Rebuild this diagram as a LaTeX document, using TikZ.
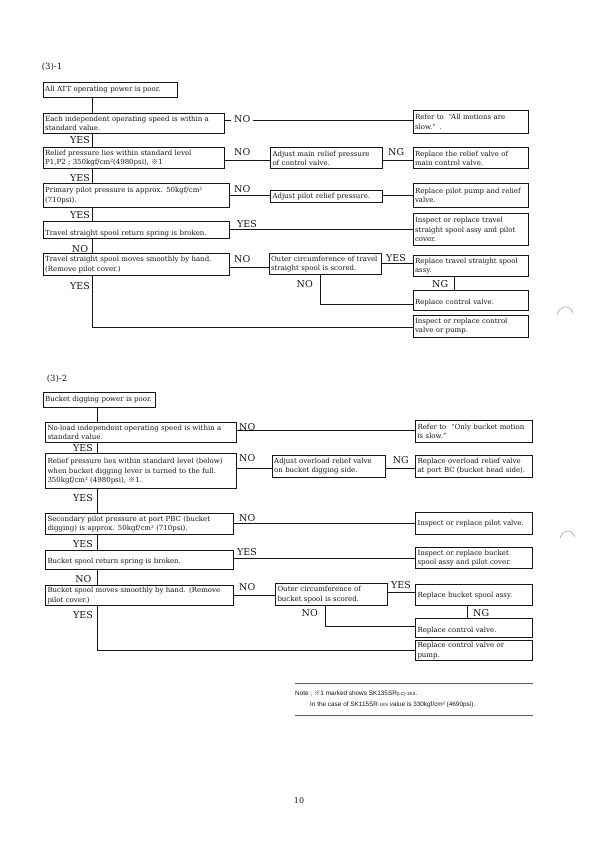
\documentclass[tikz,border=0pt]{standalone}
\usepackage{fontspec}
\setmainfont{DejaVu Serif}
\setsansfont{Liberation Sans}
\newfontfamily\cjk{Noto Sans CJK JP}
\usepackage{tikz}
\usetikzlibrary{calc}
\definecolor{ink}{RGB}{22,22,22}
\tikzset{
  % boxes of the chart
  box/.style={draw=ink, line width=1pt, anchor=north west, inner xsep=2pt, inner ysep=0pt,
    align=left, text=ink, font=\fontsize{7}{9.3}\selectfont},
  % YES / NO / NG
  ans/.style={text=ink, inner sep=0pt, font=\fontsize{9.5}{10}\selectfont},
  link/.style={draw=ink, line width=0.8pt},
  head/.style={text=ink, anchor=base west, inner sep=0pt, font=\fontsize{8.5}{9}\selectfont},
  % note under the charts
  note/.style={text=ink, anchor=base west, inner sep=0pt, font=\sffamily\fontsize{6.4}{7}\selectfont},
  rule/.style={draw=ink!70, line width=0.8pt}
}

\begin{document}
\begin{tikzpicture}[x=1pt, y=-1pt]
  \path[fill=white] (0,0) rectangle (599,844);

  % (3)-1
  \node[head] (h1) at (41.7,69.5) {(3)-1};
  \node[box, text width=130pt, minimum height=15pt] (a1) at (42.7,81.7) {All ATT operating power is poor.};
  \node[box, text width=177.3pt, minimum height=19.4pt] (a2) at (42.7,113.3) {Each independent operating speed is within a\\standard value.};
  \node[box, text width=177.3pt, minimum height=21.6pt] (a3) at (42.7,146.7) {Relief pressure lies within standard level\\P1,P2 ; 350kgf/cm²(4980psi), {\cjk ※}1};
  \node[box, text width=182.6pt, minimum height=23.4pt] (a4) at (42.7,183.3) {Primary pilot pressure is approx. 50kgf/cm²\\(710psi).};
  \node[box, text width=182.6pt, minimum height=16.7pt, text height=13pt] (a5) at (42.7,221) {Travel straight spool return spring is broken.};
  \node[box, text width=182.6pt, minimum height=21.7pt] (a6) at (42.7,253.3) {Travel straight spool moves smoothly by hand.\\(Remove pilot cover.)};

  \node[box, text width=107.7pt, minimum height=21pt] (m1) at (270,147.3) {Adjust main relief pressure\\of control valve.};
  \node[box, text width=107.7pt, minimum height=11.7pt] (m2) at (270,190) {Adjust pilot relief pressure.};
  \node[box, text width=108.5pt, minimum height=21pt] (m3) at (268.5,253.3) {Outer circumference of travel\\straight spool is scored.};

  \node[box, text width=111pt, minimum height=22.7pt] (r1) at (412.5,110) {Refer to \ “All motions are\\slow.” .};
  \node[box, text width=111pt, minimum height=21pt] (r2) at (412.5,147.3) {Replace the relief valve of\\main control valve.};
  \node[box, text width=111pt, minimum height=23.4pt] (r3) at (412.5,183.3) {Replace pilot pump and relief\\valve.};
  \node[box, text width=111pt, minimum height=31.7pt] (r4) at (412.5,213.3) {Inspect or replace travel\\straight spool assy and pilot\\cover.};
  \node[box, text width=111pt, minimum height=21pt] (r5) at (412.5,255) {Replace travel straight spool\\assy.};
  \node[box, text width=111pt, minimum height=20pt, text height=9.7pt] (r6) at (412.5,290) {Replace control valve.};
  \node[box, text width=111pt, minimum height=21.7pt] (r7) at (412.5,315) {Inspect or replace control\\valve or pump.};

  \draw[link] ([xshift=50pt]a1.south west) -- ([xshift=50pt]a2.north west);
  \draw[link] ([xshift=50pt]a2.south west) -- ([xshift=50pt]a3.north west);
  \draw[link] ([xshift=50pt]a3.south west) -- ([xshift=50pt]a4.north west);
  \draw[link] ([xshift=50pt]a4.south west) -- ([xshift=50pt]a5.north west);
  \draw[link] ([xshift=50pt]a5.south west) -- ([xshift=50pt]a6.north west);
  \draw[link] ([xshift=50pt]a6.south west) |- ([yshift=-12pt]r7.north west);

  \draw[link] ([yshift=-7.4pt]a2.north east) -- ([yshift=-10.7pt]r1.north west);
  \draw[link] ([yshift=-13.3pt]a3.north east) -- ([yshift=-12.7pt]m1.north west);
  \draw[link] ([yshift=-12.7pt]m1.north east) -- ([yshift=-12.7pt]r2.north west);
  \draw[link] ([yshift=-11.7pt]a4.north east) -- ([yshift=-5pt]m2.north west);
  \draw[link] ([yshift=-5pt]m2.north east) -- ([yshift=-11.7pt]r3.north west);
  \draw[link] ([yshift=-8.3pt]a5.north east) -- ([yshift=-16pt]r4.north west);
  \draw[link] ([yshift=-14pt]a6.north east) -- ([yshift=-14pt]m3.north west);
  \draw[link] ([yshift=-9.7pt]m3.north east) -- ([yshift=-8pt]r5.north west);
  \draw[link] ([xshift=41.5pt]r5.south west) -- ([xshift=41.5pt]r6.north west);
  \draw[link] ([xshift=51.5pt]m3.south west) |- ([yshift=-14pt]r6.north west);

  \node[ans, anchor=base east] (y1) at ([xshift=47.3pt, yshift=-9.3pt]a2.south west) {YES};
  \node[ans, anchor=base east] (y2) at ([xshift=47.3pt, yshift=-11.7pt]a3.south west) {YES};
  \node[ans, anchor=base east] (y3) at ([xshift=47.3pt, yshift=-11pt]a4.south west) {YES};
  \node[ans, anchor=base east] (y4) at ([xshift=45.6pt, yshift=-13.3pt]a5.south west) {NO};
  \node[ans, anchor=base east] (y5) at ([xshift=47.3pt, yshift=-13.3pt]a6.south west) {YES};

  \node[ans, anchor=base west, fill=white, inner xsep=3pt] (x1) at ([xshift=6pt, yshift=-8.7pt]a2.north east) {NO};
  \node[ans, anchor=base west] (x2) at ([xshift=9pt, yshift=-8.3pt]a3.north east) {NO};
  \node[ans, anchor=base west] (x3) at ([xshift=5.3pt, yshift=-7.7pt]m1.north east) {NG};
  \node[ans, anchor=base west] (x4) at ([xshift=3.7pt, yshift=-8.7pt]a4.north east) {NO};
  \node[ans, anchor=base west] (x5) at ([xshift=6.7pt, yshift=-6.7pt]a5.north east) {YES};
  \node[ans, anchor=base west] (x6) at ([xshift=3.7pt, yshift=-8.7pt]a6.north east) {NO};
  \node[ans, anchor=base west] (x7) at ([xshift=4pt, yshift=-8.4pt]m3.north east) {YES};
  \node[ans, anchor=base east] (x8) at ([xshift=35.8pt, yshift=-10.7pt]r5.south west) {NG};
  \node[ans, anchor=base east] (x9) at ([xshift=44.5pt, yshift=-12.4pt]m3.south west) {NO};

  % (3)-2
  \node[head] (h2) at (46.7,381.5) {(3)-2};
  \node[box, text width=108pt, minimum height=15pt] (b1) at (42.7,391.7) {Bucket digging power is poor.};
  \node[box, text width=187pt, minimum height=20pt] (b2) at (45,421.7) {No-load independent operating speed is within a\\standard value.};
  \node[box, text width=187pt, minimum height=35pt] (b3) at (45,453.3) {Relief pressure lies within standard level (below)\\when bucket digging lever is turned to the full.\\350kgf/cm² (4980psi), {\cjk ※}1.};
  \node[box, text width=184.3pt, minimum height=20.7pt] (b4) at (45,513.3) {Secondary pilot pressure at port PBC (bucket\\digging) is approx. 50kgf/cm² (710psi).};
  \node[box, text width=184.3pt, minimum height=19.3pt, text height=9pt] (b5) at (45,550) {Bucket spool return spring is broken.};
  \node[box, text width=184.3pt, minimum height=20pt] (b6) at (45,585) {Bucket spool moves smoothly by hand. (Remove\\pilot cover.)};

  \node[box, text width=109.3pt, minimum height=21.7pt] (n1) at (271.7,455) {Adjust overload relief valve\\on bucket digging side.};
  \node[box, text width=107.7pt, minimum height=21.7pt] (n2) at (275,583.3) {Outer circumference of\\bucket spool is scored.};

  \node[box, text width=113pt, minimum height=21.7pt] (s1) at (415,420) {Refer to \ “Only bucket motion\\is slow.”};
  \node[box, text width=113pt, minimum height=21.7pt] (s2) at (415,455) {Replace overload relief valve\\at port BC (bucket head side).};
  \node[box, text width=113pt, minimum height=21.7pt] (s3) at (415,512.3) {Inspect or replace pilot valve.};
  \node[box, text width=113pt, minimum height=21.7pt] (s4) at (415,546.7) {Inspect or replace bucket\\spool assy and pilot cover.};
  \node[box, text width=113pt, minimum height=20.7pt] (s5) at (415,584.3) {Replace bucket spool assy.};
  \node[box, text width=113pt, minimum height=19.6pt, text height=9.7pt] (s6) at (415,617.7) {Replace control valve.};
  \node[box, text width=113pt, minimum height=20pt] (s7) at (415,640) {Replace control valve or\\pump.};

  \draw[link] ([xshift=54.3pt]b1.south west) -- ([xshift=52pt]b2.north west);
  \draw[link] ([xshift=52pt]b2.south west) -- ([xshift=52pt]b3.north west);
  \draw[link] ([xshift=52pt]b3.south west) -- ([xshift=52pt]b4.north west);
  \draw[link] ([xshift=52pt]b4.south west) -- ([xshift=52pt]b5.north west);
  \draw[link] ([xshift=52pt]b5.south west) -- ([xshift=52pt]b6.north west);
  \draw[link] ([xshift=52pt]b6.south west) |- ([yshift=-10.7pt]s7.north west);

  \draw[link] ([yshift=-8.3pt]b2.north east) -- ([yshift=-10pt]s1.north west);
  \draw[link] ([yshift=-14.7pt]b3.north east) -- ([yshift=-13pt]n1.north west);
  \draw[link] ([yshift=-13pt]n1.north east) -- ([yshift=-13pt]s2.north west);
  \draw[link] ([yshift=-9.7pt]b4.north east) -- ([yshift=-10.7pt]s3.north west);
  \draw[link] ([yshift=-8.3pt]b5.north east) -- ([yshift=-11.6pt]s4.north west);
  \draw[link] ([yshift=-10pt]b6.north east) -- ([yshift=-11.7pt]n2.north west);
  \draw[link] ([yshift=-8.7pt]n2.north east) -- ([yshift=-7.7pt]s5.north west);
  \draw[link] ([xshift=52.5pt]s5.south west) -- ([xshift=52.5pt]s6.north west);
  \draw[link] ([xshift=50pt]n2.south west) |- ([yshift=-8.3pt]s6.north west);

  \node[ans, anchor=base east] (v1) at ([xshift=48pt, yshift=-8.3pt]b2.south west) {YES};
  \node[ans, anchor=base east] (v2) at ([xshift=48pt, yshift=-12.4pt]b3.south west) {YES};
  \node[ans, anchor=base east] (v3) at ([xshift=48pt, yshift=-12.7pt]b4.south west) {YES};
  \node[ans, anchor=base east] (v4) at ([xshift=46.7pt, yshift=-11.7pt]b5.south west) {NO};
  \node[ans, anchor=base east] (v5) at ([xshift=48pt, yshift=-12.3pt]b6.south west) {YES};

  \node[ans, anchor=base west, fill=white, inner xsep=2pt] (w1) at ([xshift=0pt, yshift=-8.3pt]b2.north east) {NO};
  \node[ans, anchor=base west] (w2) at ([xshift=2pt, yshift=-8.4pt]b3.north east) {NO};
  \node[ans, anchor=base west] (w3) at ([xshift=6.7pt, yshift=-8.3pt]n1.north east) {NG};
  \node[ans, anchor=base west] (w4) at ([xshift=4.7pt, yshift=-8.4pt]b4.north east) {NO};
  \node[ans, anchor=base west] (w5) at ([xshift=2.7pt, yshift=-5pt]b5.north east) {YES};
  \node[ans, anchor=base west] (w6) at ([xshift=4.7pt, yshift=-5.7pt]b6.north east) {NO};
  \node[ans, anchor=base west] (w7) at ([xshift=3.3pt, yshift=-5pt]n2.north east) {YES};
  \node[ans, anchor=base west] (w8) at ([xshift=58pt, yshift=-10pt]s5.south west) {NG};
  \node[ans, anchor=base east] (w9) at ([xshift=43pt, yshift=-10pt]n2.south west) {NO};

  % note
  \draw[rule] (295,683.3) -- (533.3,683.3);
  \node[note] (t1) at (295,695) {Note ; {\cjk ※}1 marked shows SK135SR{\fontsize{4.5}{5}\selectfont(LC)-1ES}.};
  \node[note] (t2) at (310,706) {In the case of SK115SR{\fontsize{4.5}{5}\selectfont -1ES} value is 330kgf/cm² (4690psi).};
  \draw[rule] (295,715) -- (533.3,715);

  \node[text=ink, anchor=base, font=\fontsize{8}{9}\selectfont] (pg) at (299,803) {10};

  % punch marks
  \draw[ink!45, line width=0.5pt] (557,315) .. controls (560,305) and (570,304) .. (573,313);
  \draw[ink!45, line width=0.5pt] (560,538) .. controls (563,529) and (572,529) .. (575,537);
\end{tikzpicture}
\end{document}
